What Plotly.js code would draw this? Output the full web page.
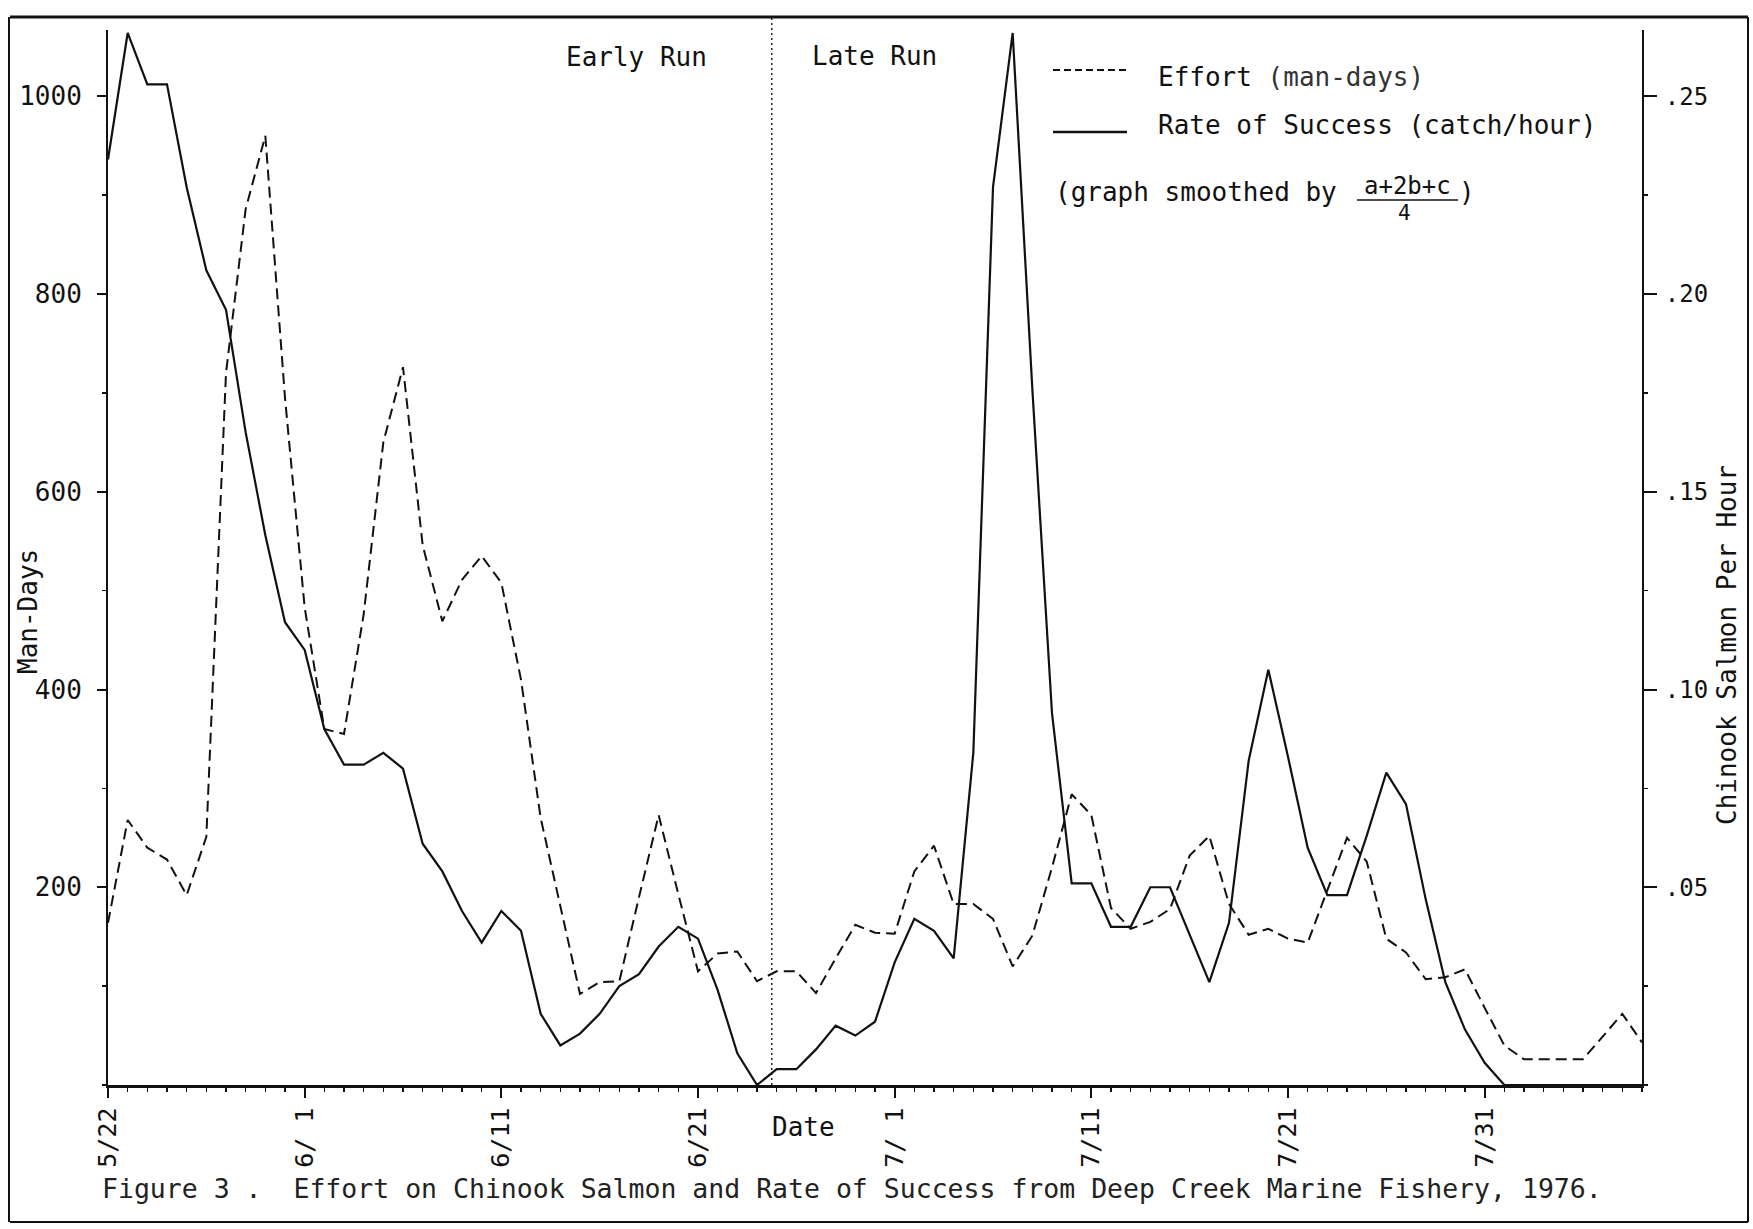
<!DOCTYPE html>
<html>
<head>
<meta charset="utf-8">
<script src="https://cdn.plot.ly/plotly-3.0.1.min.js"></script>
<style>
  html, body { margin: 0; padding: 0; background: #fff; }
  #chart { width: 1753px; height: 1229px; }
</style>
</head>
<body>
<div id="chart"></div>
<script>
// ---------------- DATA ----------------
const DATES = [
  '1976-05-22','1976-05-23','1976-05-24','1976-05-25','1976-05-26','1976-05-27','1976-05-28','1976-05-29','1976-05-30','1976-05-31',
  '1976-06-01','1976-06-02','1976-06-03','1976-06-04','1976-06-05','1976-06-06','1976-06-07','1976-06-08','1976-06-09','1976-06-10',
  '1976-06-11','1976-06-12','1976-06-13','1976-06-14','1976-06-15','1976-06-16','1976-06-17','1976-06-18','1976-06-19','1976-06-20',
  '1976-06-21','1976-06-22','1976-06-23','1976-06-24','1976-06-25','1976-06-26','1976-06-27','1976-06-28','1976-06-29','1976-06-30',
  '1976-07-01','1976-07-02','1976-07-03','1976-07-04','1976-07-05','1976-07-06','1976-07-07','1976-07-08','1976-07-09','1976-07-10',
  '1976-07-11','1976-07-12','1976-07-13','1976-07-14','1976-07-15','1976-07-16','1976-07-17','1976-07-18','1976-07-19','1976-07-20',
  '1976-07-21','1976-07-22','1976-07-23','1976-07-24','1976-07-25','1976-07-26','1976-07-27','1976-07-28','1976-07-29','1976-07-30',
  '1976-07-31','1976-08-01','1976-08-02','1976-08-03','1976-08-04','1976-08-05','1976-08-06','1976-08-07','1976-08-08'
];

// Effort (man-days), dashed, left axis
const EFFORT = [
  164, 268, 240, 228, 192, 251, 720, 886, 960, 695,
  483, 360, 355, 476, 650, 726, 546, 469, 511, 535,
  508, 410, 270, 180,  92, 104, 105, 190, 273, 193,
  115, 133, 135, 105, 115, 115,  93, 128, 162, 154,
  153, 216, 242, 183, 183, 168, 120, 151, 220, 294,
  273, 179, 158, 165, 178, 232, 252, 183, 152, 158,
  148, 144, 197, 250, 226, 148, 134, 107, 109, 117,
   78,  40,  26,  26,  26,  26,  49,  72,  43
];

// Rate of success (catch/hour), solid, right axis
const RATE = [
  0.234, 0.266, 0.253, 0.253, 0.227, 0.206, 0.196, 0.165, 0.139, 0.117,
  0.110, 0.090, 0.081, 0.081, 0.084, 0.080, 0.061, 0.054, 0.044, 0.036,
  0.044, 0.039, 0.018, 0.010, 0.013, 0.018, 0.025, 0.028, 0.035, 0.040,
  0.037, 0.024, 0.008, 0.000, 0.004, 0.004, 0.009, 0.015, 0.0125, 0.016,
  0.031, 0.042, 0.039, 0.032, 0.084, 0.227, 0.266, 0.176, 0.094, 0.051,
  0.051, 0.040, 0.040, 0.050, 0.050, 0.038, 0.026, 0.041, 0.082, 0.105,
  0.083, 0.060, 0.048, 0.048, 0.063, 0.079, 0.071, 0.047, 0.026, 0.014,
  0.0056, 0, 0, 0, 0, 0, 0, 0, 0
];

const X_TICK_VALS = ['1976-05-22','1976-06-01','1976-06-11','1976-06-21','1976-07-01','1976-07-11','1976-07-21','1976-07-31'];
const X_TICK_TEXT = ['5/22','6/ 1','6/11','6/21','7/ 1','7/11','7/21','7/31'];
const LEFT_TICK_VALS = [200, 400, 600, 800, 1000];
const RIGHT_TICK_VALS = [0.05, 0.10, 0.15, 0.20, 0.25];
const RIGHT_TICK_TEXT = ['.05', '.10', '.15', '.20', '.25'];
const RUN_DIVIDE = '1976-06-24 18:00';

// ---------------- LAYOUT HELPERS ----------------
const FIG_W = 1753, FIG_H = 1229;
const L = 108, R = 1642, T = 30, B = 1085;
const PW = R - L, PH = B - T;
const px = v => (v - L) / PW;   // pixel x -> paper x
const py = v => (B - v) / PH;   // pixel y -> paper y

const FONT = 'DejaVu Sans Mono, Liberation Mono, monospace';
const INK = '#111';

const traces = [
  {
    x: DATES, y: EFFORT, yaxis: 'y', type: 'scatter', mode: 'lines',
    name: 'Effort (man-days)',
    line: { color: INK, width: 2, dash: '11px,6px' }
  },
  {
    x: DATES, y: RATE, yaxis: 'y2', type: 'scatter', mode: 'lines',
    name: 'Rate of Success (catch/hour)',
    line: { color: INK, width: 2.2 }
  }
];

function ann(text, x, y, opts) {
  return Object.assign({
    text: text, x: px(x), y: py(y), xref: 'paper', yref: 'paper',
    showarrow: false, xanchor: 'center', yanchor: 'middle',
    font: { family: FONT, size: 26, color: INK }
  }, opts || {});
}

const annotations = [
  ann('Early Run', 636, 57),
  ann('Late Run', 874, 56),
  ann('Effort <span style="color:#333">(man-days)</span>', 1156, 77, { xanchor: 'left' }),
  ann('Rate of Success (catch/hour)', 1156, 125, { xanchor: 'left' }),
  ann('(graph smoothed by', 1053, 192, { xanchor: 'left' }),
  ann('a+2b+c', 1407, 186, { font: { family: FONT, size: 24, color: INK } }),
  ann('4', 1404, 213, { font: { family: FONT, size: 21, color: INK } }),
  ann(')', 1457, 192, { xanchor: 'left' }),
  ann('Man-Days', 28, 612, { textangle: -90 }),
  ann('Chinook Salmon Per Hour', 1727, 645, { textangle: -90 }),
  ann('Date', 803, 1127),
  ann('Figure 3 .\u00a0\u00a0Effort on Chinook Salmon and Rate of Success from Deep Creek Marine Fishery, 1976.',
      100, 1188, { xanchor: 'left', font: { family: FONT, size: 26.5, color: '#222' } })
];

function hline(x0, x1, y, w, dash) {
  return { type: 'line', xref: 'paper', yref: 'paper', x0: px(x0), x1: px(x1), y0: py(y), y1: py(y),
           line: { color: INK, width: w, dash: dash || 'solid' } };
}
function vline(x, y0, y1, w) {
  return { type: 'line', xref: 'paper', yref: 'paper', x0: px(x), x1: px(x), y0: py(y0), y1: py(y1),
           line: { color: INK, width: w } };
}

const shapes = [
  // early / late run divider
  { type: 'line', xref: 'x', yref: 'paper', x0: RUN_DIVIDE, x1: RUN_DIVIDE, y0: 0, y1: py(18),
    line: { color: '#222', width: 1.5, dash: '2px,3px' } },
  // legend samples
  hline(1053, 1126, 70, 1.8, '7px,4px'),
  hline(1053, 1127, 132, 2.5),
  // fraction bar
  hline(1357, 1458, 200, 1.5),
  // page frame
  hline(10, 1748, 17, 3),
  hline(10, 1748, 1222, 2),
  vline(9, 17, 1222, 2),
  vline(1748, 17, 1222, 2)
];

const layout = {
  width: FIG_W, height: FIG_H,
  margin: { l: L, r: FIG_W - R, t: T, b: FIG_H - B, pad: 0 },
  paper_bgcolor: '#fff', plot_bgcolor: '#fff',
  showlegend: false,
  font: { family: FONT, size: 26, color: INK },
  xaxis: {
    type: 'date',
    range: ['1976-05-22', '1976-08-08'],
    tickmode: 'array', tickvals: X_TICK_VALS, ticktext: X_TICK_TEXT,
    tickangle: -90,
    tickfont: { family: FONT, size: 25, color: INK },
    ticks: 'outside', ticklen: 10, tickwidth: 2, tickcolor: INK,
    showline: true, linecolor: INK, linewidth: 2.5,
    showgrid: false, zeroline: false,
    minor: { dtick: 86400000, tick0: '1976-05-22', ticks: 'outside', ticklen: 4, tickwidth: 1.5, tickcolor: INK, showgrid: false }
  },
  yaxis: {
    range: [0, 1067],
    tickmode: 'array', tickvals: LEFT_TICK_VALS,
    tickfont: { family: FONT, size: 26, color: INK },
    ticks: 'outside', ticklen: 9, tickwidth: 2, tickcolor: INK,
    ticklabelstandoff: 10,
    showline: true, linecolor: INK, linewidth: 2,
    showgrid: false, zeroline: false,
    minor: { dtick: 100, tick0: 0, ticks: 'outside', ticklen: 4, tickwidth: 1.5, tickcolor: INK, showgrid: false }
  },
  yaxis2: {
    overlaying: 'y', side: 'right', anchor: 'x',
    range: [0, 0.26675],
    tickmode: 'array', tickvals: RIGHT_TICK_VALS, ticktext: RIGHT_TICK_TEXT,
    tickfont: { family: FONT, size: 24, color: INK },
    ticks: 'outside', ticklen: 13, tickwidth: 2, tickcolor: INK,
    ticklabelstandoff: 3,
    showline: true, linecolor: INK, linewidth: 2,
    showgrid: false, zeroline: false,
    minor: { dtick: 0.025, tick0: 0, ticks: 'outside', ticklen: 4, tickwidth: 1.5, tickcolor: INK, showgrid: false }
  },
  annotations: annotations,
  shapes: shapes
};

Plotly.newPlot('chart', traces, layout, { displayModeBar: false, staticPlot: true });
</script>
</body>
</html>
